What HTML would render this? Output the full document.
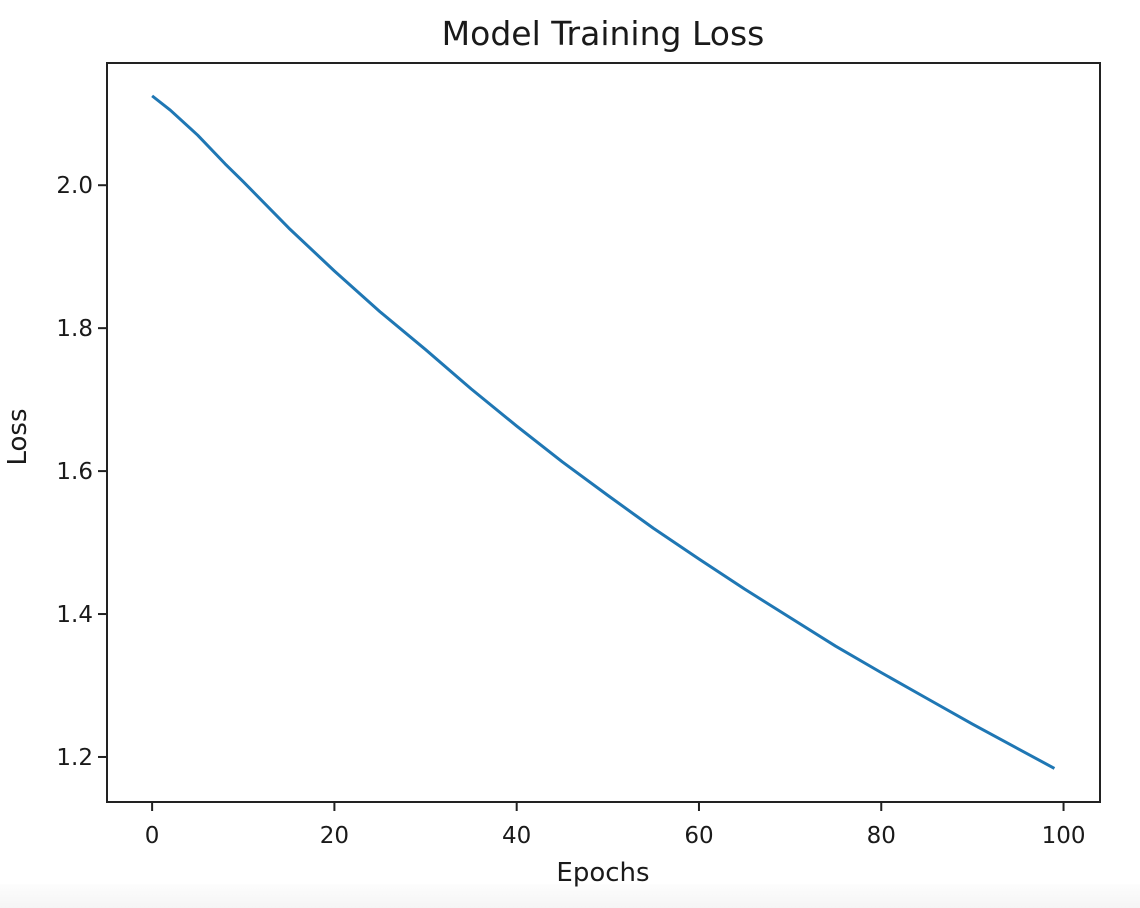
<!DOCTYPE html>
<html><head><meta charset="utf-8"><style>
html,body{margin:0;padding:0;background:#fff;}
body{width:1140px;height:908px;overflow:hidden;position:relative;font-family:"Liberation Sans","DejaVu Sans",sans-serif;}
#band{position:absolute;left:0;top:884px;width:1140px;height:24px;background:linear-gradient(#fdfdfd,#f5f5f5);}
</style></head><body>
<div id="band"></div>
<svg id="chart" width="1140" height="908" style="position:absolute;left:0;top:0" font-family="DejaVu Sans, Liberation Sans, sans-serif">
<text x="603" y="45" font-size="33" text-anchor="middle" fill="#1a1a1a">Model Training Loss</text>
<text x="603" y="881" font-size="26" text-anchor="middle" fill="#1a1a1a">Epochs</text>
<text transform="translate(26,437) rotate(-90)" font-size="26" text-anchor="middle" fill="#1a1a1a">Loss</text>
<g id="ticks"></g>
<path id="line" fill="none" stroke="#1f77b4" stroke-width="3" stroke-linejoin="round"></path>
<rect x="107" y="63" width="993" height="739" fill="none" stroke="#222" stroke-width="2"></rect>
</svg>
<script>
const epochs = [0,2,5,8,10,15,20,25,30,35,40,45,50,55,60,65,70,75,80,85,90,99];
const losses = [2.125,2.105,2.07,2.03,2.005,1.94,1.88,1.823,1.77,1.715,1.663,1.613,1.566,1.52,1.477,1.435,1.395,1.355,1.318,1.282,1.246,1.184];
const xTicks = [0,20,40,60,80,100];
const yTicks = [1.2,1.4,1.6,1.8,2.0];
const yTickLabels = ["1.2","1.4","1.6","1.8","2.0"];

const L=107,R=1100,T=63,B=802;
const xMin=-4.95,xMax=104.0,yMin=1.137,yMax=2.171;
function sx(v){return L+(v-xMin)/(xMax-xMin)*(R-L);}
function sy(v){return B-(v-yMin)/(yMax-yMin)*(B-T);}
const NS="http://www.w3.org/2000/svg";
const g=document.getElementById('ticks');
xTicks.forEach(function(t){
  const l=document.createElementNS(NS,'line');
  l.setAttribute('x1',sx(t));l.setAttribute('x2',sx(t));l.setAttribute('y1',B);l.setAttribute('y2',B+9);
  l.setAttribute('stroke','#222');l.setAttribute('stroke-width','2');
  
  
  g.appendChild(l);
  const tx=document.createElementNS(NS,'text');
  tx.setAttribute('x',sx(t));tx.setAttribute('y',B+41);tx.setAttribute('font-size','23');
  tx.setAttribute('text-anchor','middle');tx.setAttribute('fill','#1a1a1a');tx.textContent=t;
  
  
  g.appendChild(tx);
});
yTicks.forEach(function(t,i){
  const l=document.createElementNS(NS,'line');
  l.setAttribute('x1',L-9);l.setAttribute('x2',L);l.setAttribute('y1',sy(t));l.setAttribute('y2',sy(t));
  l.setAttribute('stroke','#222');l.setAttribute('stroke-width','2');
  
  
  g.appendChild(l);
  const tx=document.createElementNS(NS,'text');
  tx.setAttribute('x',L-14);tx.setAttribute('y',sy(t)+8);tx.setAttribute('font-size','23');
  tx.setAttribute('text-anchor','end');tx.setAttribute('fill','#1a1a1a');tx.textContent=yTickLabels[i];
  
  
  g.appendChild(tx);
});
let d='';
epochs.forEach(function(e,i){d+=(i?'L':'M')+sx(e).toFixed(2)+','+sy(losses[i]).toFixed(2);});
document.getElementById('line').setAttribute('d',d);
</script>
</body></html>
